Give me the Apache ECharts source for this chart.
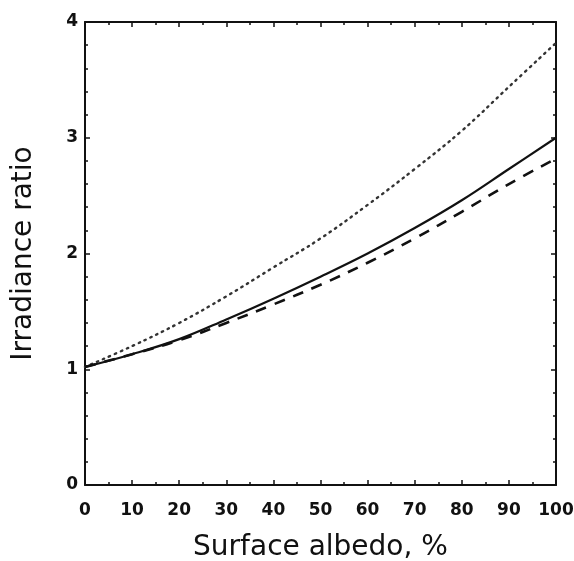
<!DOCTYPE html>
<html>
<head>
<meta charset="utf-8">
<script src="https://cdn.jsdelivr.net/npm/echarts@6/dist/echarts.min.js"></script>
<style>html,body{margin:0;padding:0;background:#fff}#c{width:574px;height:561px}</style>
</head>
<body>
<div id="c"></div>
<script>
const albedo = [0, 10, 20, 30, 40, 50, 60, 70, 80, 90, 100];
const solidRatio = [1.02, 1.13, 1.26, 1.43, 1.61, 1.80, 2.00, 2.22, 2.46, 2.73, 3.00];
const dottedRatio = [1.02, 1.20, 1.40, 1.63, 1.88, 2.13, 2.42, 2.73, 3.06, 3.44, 3.82];
const dashedRatio = [1.02, 1.13, 1.25, 1.40, 1.56, 1.73, 1.92, 2.13, 2.36, 2.60, 2.82];
const xTicks = [0, 10, 20, 30, 40, 50, 60, 70, 80, 90, 100];
const yTicks = [0, 1, 2, 3, 4];

const font = 'DejaVu Sans';
const ink = '#111';
const pairs = arr => albedo.map((a, i) => [a, arr[i]]);

const chart = echarts.init(document.getElementById('c'));
const axisLine = { show: true, onZero: false, lineStyle: { color: ink, width: 2 } };
const tick = { show: true, inside: true, length: 5, lineStyle: { color: ink, width: 1.5 } };
chart.setOption({
  animation: false,
  backgroundColor: '#fff',
  grid: { left: 85, right: 18, top: 22, bottom: 76, containLabel: false, outerBoundsMode: 'none' },
  xAxis: [{
    type: 'value', min: 0, max: 100, interval: 10, position: 'bottom',
    axisLine: axisLine, axisTick: tick,
    minorTick: { show: true, splitNumber: 2, length: 3, lineStyle: { color: ink, width: 1.5 } },
    splitLine: { show: false },
    axisLabel: { fontFamily: font, fontSize: 17, fontWeight: 'bold', color: ink, margin: 17,
      formatter: v => xTicks.includes(v) ? String(v) : '' },
    name: 'Surface albedo, %', nameLocation: 'middle', nameGap: 49,
    nameTextStyle: { fontFamily: font, fontSize: 28, color: ink }
  }, {
    type: 'value', min: 0, max: 100, interval: 10, position: 'top',
    axisLine: axisLine, axisTick: tick,
    minorTick: { show: true, splitNumber: 2, length: 3, lineStyle: { color: ink, width: 1.5 } },
    splitLine: { show: false }, axisLabel: { show: false }
  }],
  yAxis: [{
    type: 'value', min: 0, max: 4, interval: 1, position: 'left',
    axisLine: axisLine, axisTick: tick,
    minorTick: { show: true, splitNumber: 5, length: 3, lineStyle: { color: ink, width: 1.5 } },
    splitLine: { show: false },
    axisLabel: { fontFamily: font, fontSize: 17, fontWeight: 'bold', color: ink, margin: 7,
      formatter: v => yTicks.includes(v) ? String(v) : '' },
    name: 'Irradiance ratio', nameLocation: 'middle', nameGap: 47,
    nameTextStyle: { fontFamily: font, fontSize: 28, color: ink }
  }, {
    type: 'value', min: 0, max: 4, interval: 1, position: 'right',
    axisLine: axisLine, axisTick: tick,
    minorTick: { show: true, splitNumber: 5, length: 3, lineStyle: { color: ink, width: 1.5 } },
    splitLine: { show: false }, axisLabel: { show: false }
  }],
  series: [{
    type: 'line', data: pairs(dottedRatio), smooth: 0.4, showSymbol: false,
    lineStyle: { color: '#333', width: 2.4, type: [1.5, 5], cap: 'round' }
  }, {
    type: 'line', data: pairs(solidRatio), smooth: 0.4, showSymbol: false,
    lineStyle: { color: ink, width: 2.2 }
  }, {
    type: 'line', data: pairs(dashedRatio), smooth: 0.4, showSymbol: false,
    lineStyle: { color: ink, width: 2.6, type: [11, 9] }
  }]
});
</script>
</body>
</html>
